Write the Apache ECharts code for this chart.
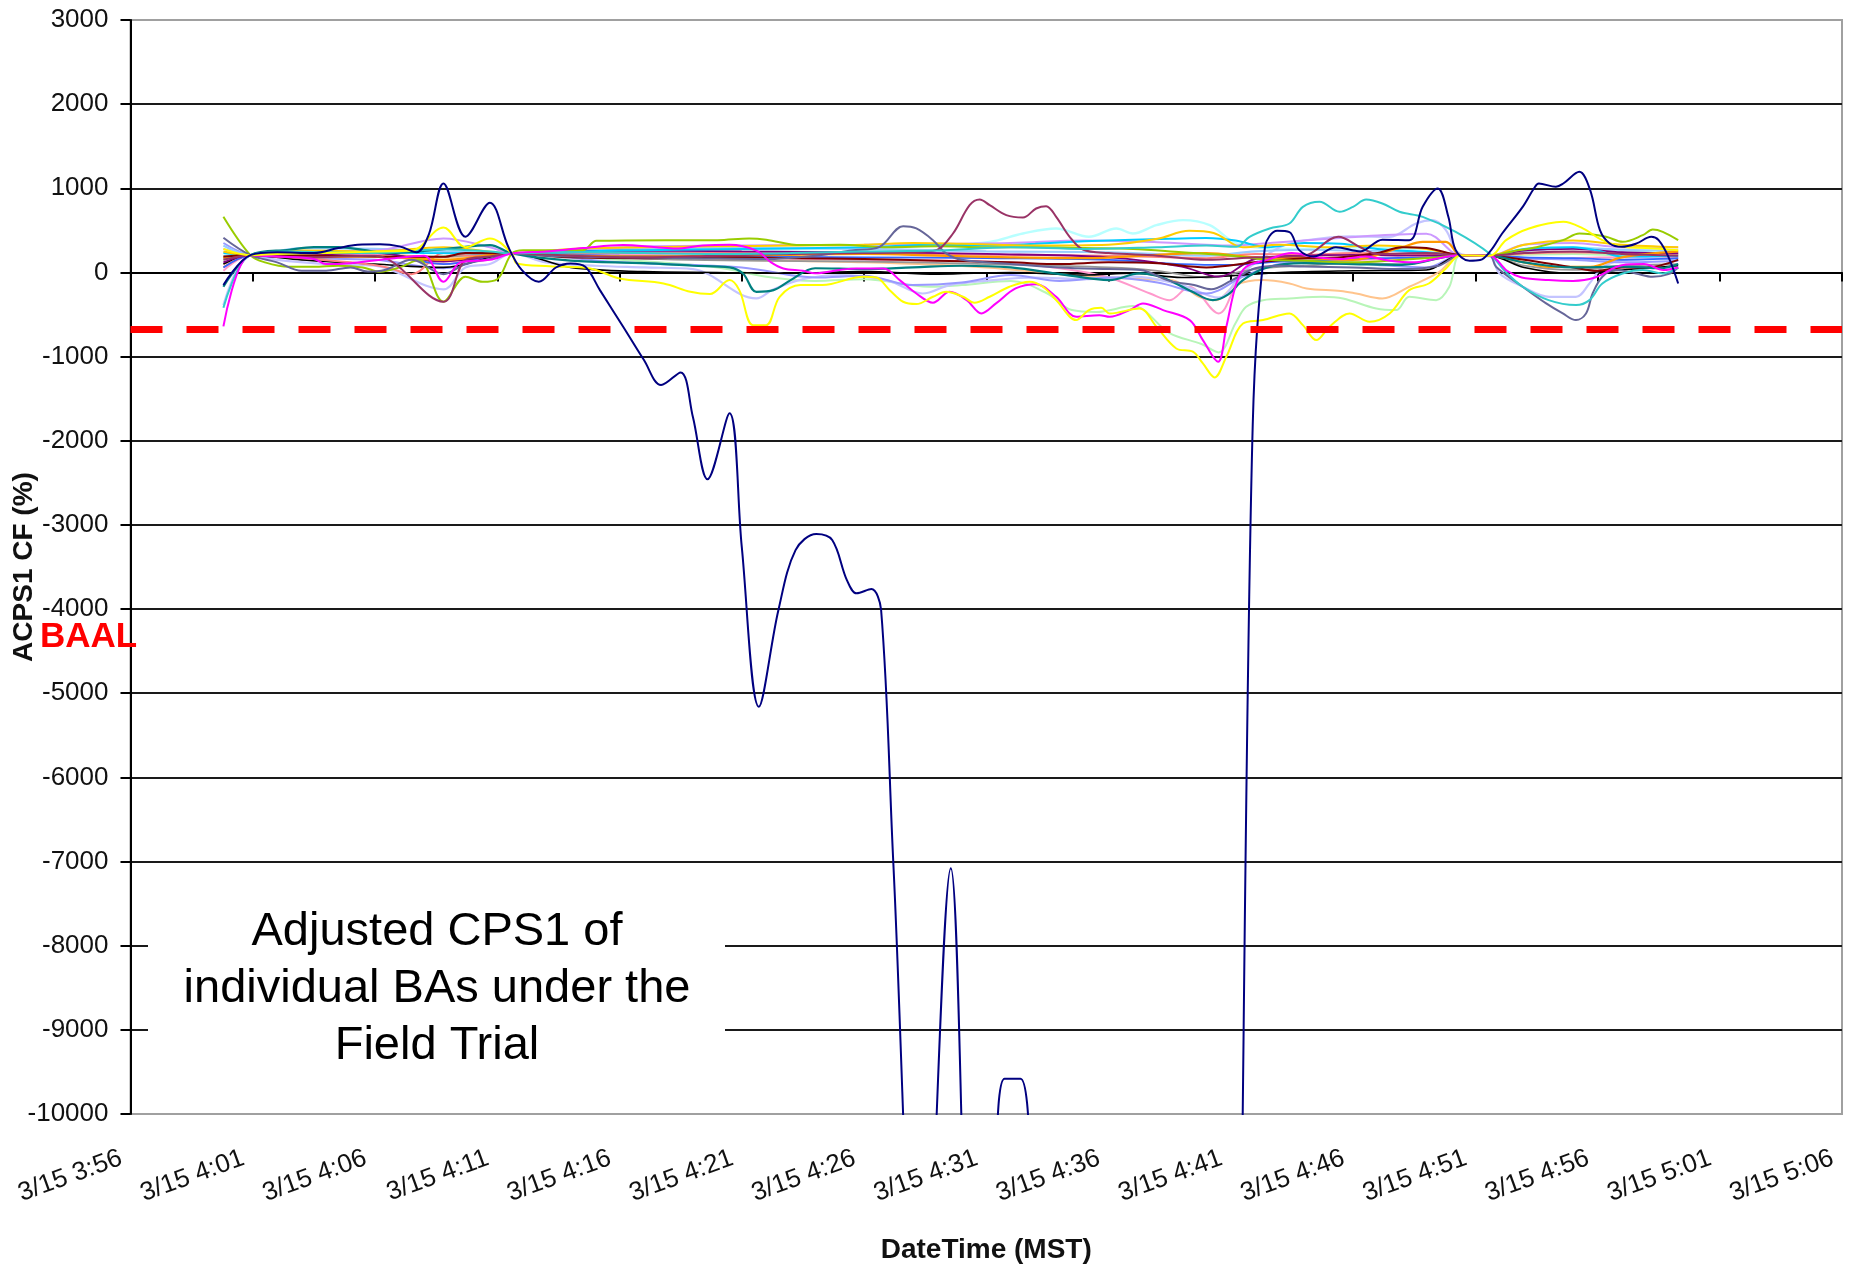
<!DOCTYPE html>
<html><head><meta charset="utf-8">
<script src="https://cdn.jsdelivr.net/npm/echarts@6/dist/echarts.min.js"></script>
<style>html,body{margin:0;padding:0;background:#fff;}#c{width:1860px;height:1271px;}</style>
</head><body><div id="c"></div>
<script>
// x values: minutes after 3/15 3:56 (MST); y values: ACPS1 CF (%)
const xTickLabels = ['3/15 3:56','3/15 4:01','3/15 4:06','3/15 4:11','3/15 4:16','3/15 4:21','3/15 4:26','3/15 4:31','3/15 4:36','3/15 4:41','3/15 4:46','3/15 4:51','3/15 4:56','3/15 5:01','3/15 5:06'];
const BAAL = -680;

const baNavy = [[3.8,-150],[4.9,206],[6.0,240],[7.5,230],[8.5,290],[9.3,330],[10.2,335],[11.0,310],[11.7,240],[12.2,450],[12.8,1057],[13.7,424],[14.7,828],[15.45,305],[16.0,30],[16.7,-111],[17.4,59],[18.0,107],[18.6,67],[19.2,-210],[20.15,-645],[21.0,-1041],[21.7,-1338],[22.5,-1188],[23.0,-1715],[23.6,-2458],[24.5,-1674],[25.0,-3259],[25.7,-5160],[26.5,-4011],[27.2,-3300],[28.05,-3108],[28.7,-3180],[29.3,-3655],[29.7,-3813],[30.3,-3762],[30.7,-4011],[31.2,-7021],[32.3,-13500],[33.55,-7081],[34.5,-13500],[35.3,-11000],[35.75,-9580],[36.4,-9580],[36.9,-11000],[37.6,-14000],[44.0,-15000],[44.9,-16000],[45.9,-1800],[46.4,305],[46.9,495],[47.4,480],[47.8,265],[48.4,190],[49.3,300],[50.3,250],[51.2,390],[52.3,384],[52.85,780],[53.47,998],[53.9,661],[54.2,265],[54.76,139],[55.2,147],[55.65,265],[56.1,463],[56.94,780],[57.4,998],[57.6,1057],[58.3,1018],[58.6,1057],[59.26,1196],[59.7,978],[60.1,503],[60.5,345],[61.0,305],[61.6,345],[62.2,424],[62.5,384],[62.9,186],[63.3,-131]];
const baMagenta = [[3.8,-640],[4.9,206],[6,190],[7.5,160],[8.0,100],[9.0,110],[10.5,160],[12.0,200],[12.8,-111],[13.5,120],[14.7,150],[15.6,226],[17,250],[18.5,290],[20.15,325],[21.5,300],[22.3,285],[23.4,320],[24.5,330],[25.6,260],[26.2,120],[26.7,48],[27.5,20],[28.0,-10],[29.0,30],[29.7,48],[30.8,48],[31.46,-91],[32.14,-250],[32.82,-360],[33.5,-230],[34.2,-329],[34.8,-487],[35.4,-368],[36.2,-190],[37.04,-139],[37.86,-289],[38.68,-527],[39.63,-507],[40.05,-527],[40.86,-447],[41.41,-368],[42.23,-447],[43.32,-566],[43.86,-804],[44.48,-1061],[44.82,-645],[45.23,-131],[45.63,67],[46.5,150],[47.5,230],[48.5,180],[49.5,160],[50.5,190],[51.5,140],[52.5,120],[53.5,170],[54.4,205],[55.6,200],[56.3,20],[56.9,-60],[58.0,-90],[59.0,-100],[59.9,-60],[61.0,87],[61.9,100],[62.7,30],[63.3,60]];
const baYellow = [[3.8,280],[4.9,206],[6,220],[8,230],[10,250],[11.5,260],[12.8,535],[13.7,300],[14.7,404],[15.6,226],[15.8,107],[17.15,75],[18.8,48],[20.0,-71],[21.8,-131],[22.9,-230],[23.7,-257],[24.5,-91],[24.9,-210],[25.46,-626],[26.0,-626],[26.55,-289],[27.4,-150],[28.3,-150],[29.96,-51],[30.5,-60],[31.05,-210],[31.6,-348],[32.14,-376],[32.82,-289],[33.36,-230],[34.05,-289],[34.52,-360],[35.14,-289],[35.95,-170],[36.77,-111],[37.32,-170],[37.86,-329],[38.68,-566],[39.2,-447],[39.7,-420],[40.05,-487],[41.27,-428],[41.96,-645],[42.77,-903],[43.45,-942],[43.86,-1081],[44.34,-1247],[44.82,-1002],[45.5,-606],[46.32,-566],[47.4,-487],[47.95,-626],[48.5,-804],[49.04,-645],[49.86,-487],[50.68,-586],[51.5,-487],[52.3,-210],[53.1,-131],[53.8,48],[54.4,205],[55.6,200],[56.26,384],[57.2,523],[58.6,602],[59.4,523],[60.2,384],[61.03,305],[62.0,290],[63.3,265]];
const baTurquoise = [[3.8,-420],[4.9,206],[6.5,250],[8,240],[10,230],[12.8,277],[14.7,250],[15.6,226],[18,240],[21,230],[24,220],[27,230],[30,250],[33,260],[36,300],[39,280],[42,300],[44,320],[45.23,305],[45.77,424],[46.59,523],[47.4,582],[47.95,780],[48.63,840],[49.45,721],[50.0,780],[50.54,867],[51.2,820],[51.9,721],[52.85,661],[54.2,483],[55.58,226],[56.2,20],[56.94,-170],[58.0,-329],[59.12,-388],[59.67,-329],[60.2,-131],[61.03,-12],[61.85,28],[62.67,-12],[63.3,60]];
const baPlum = [[3.8,150],[4.9,206],[7,180],[10,200],[12.8,-348],[13.7,150],[14.7,190],[15.6,226],[18,200],[21,180],[24,200],[27,220],[30,230],[32.0,240],[32.96,265],[33.64,463],[34.32,800],[34.73,867],[35.14,800],[35.82,681],[36.5,653],[37.04,760],[37.45,788],[37.86,661],[38.41,424],[38.95,273],[40,230],[42,200],[44,150],[46,180],[48,200],[49.4,424],[50.3,300],[51,220],[53,230],[54.4,205],[55.6,200],[57,230],[59,250],[61,220],[63.3,200]];
const baSlate = [[3.8,412],[4.9,206],[6,120],[7,20],[8,20],[9.0,60],[9.7,10],[10.4,30],[11.5,150],[12.8,-20],[13.7,100],[14.7,160],[15.6,226],[17,200],[20,180],[23,170],[26,160],[28,200],[29.5,260],[30.64,305],[31.6,550],[32.14,523],[32.82,384],[33.36,226],[34,150],[36,100],[38,60],[40,40],[41.3,30],[42.5,-100],[43.5,-150],[44.2,-200],[45,-100],[46,50],[47,80],[48,70],[50,60],[52,40],[53.5,80],[54.4,205],[55.6,200],[55.85,67],[56.94,-170],[57.9,-368],[58.58,-487],[59.12,-566],[59.53,-487],[59.8,-250],[60.2,-51],[60.75,28],[61.57,-12],[62.25,-51],[62.9,-20],[63.3,60]];
const baLightCyan = [[3.8,200],[4.9,206],[8,230],[12,240],[15.6,226],[20,250],[25,270],[30,290],[33,320],[35.14,364],[36.5,463],[37.86,523],[39.2,424],[40.32,523],[41.0,463],[41.96,562],[43.05,622],[44.14,562],[45.1,364],[46,300],[48,280],[50,300],[52,280],[54.4,205],[55.6,200],[57,250],[59,300],[61,260],[63.3,240]];
const baLime = [[3.8,661],[4.9,206],[5.5,120],[6.5,67],[7.5,67],[8.5,80],[9.5,60],[10.2,8],[11.0,60],[11.8,150],[12.8,-348],[13.7,-50],[14.4,-111],[15.0,-80],[15.6,226],[16.06,265],[18.5,265],[19.06,376],[21.9,384],[22.9,384],[24,384],[25.3,404],[26.0,390],[27.4,325],[29,330],[31,300],[33,310],[35,300],[37,300],[39,290],[41,280],[43,240],[45,200],[46.5,150],[48,140],[50,120],[52,150],[53.5,180],[54.4,205],[55.6,200],[56.5,250],[57.5,300],[58.58,384],[59.26,463],[60.35,424],[61.03,364],[61.85,443],[62.26,511],[62.67,483],[63.3,384]];
const baLavender = [[3.8,-388],[4.9,206],[6,150],[8,100],[10,80],[12.8,-200],[13.7,60],[14.7,100],[15.6,226],[17,120],[19,80],[21,60],[23,40],[25.6,-309],[26.3,-200],[27.5,-80],[29,-30],[31,-100],[32.4,-250],[33.5,-150],[35,-100],[37,-60],[39,-80],[41,-50],[43,-150],[44.5,-300],[45.5,0],[47,300],[48,380],[50,430],[51.5,424],[52.58,582],[53.26,622],[53.8,503],[54.2,265],[54.6,205],[55.6,190],[55.99,-12],[56.94,-170],[58.03,-289],[59.12,-289],[59.67,-131],[60.2,60],[61,150],[62,180],[63.3,150]];
const baLightGreen = [[3.8,150],[4.9,206],[8,200],[12,190],[15.6,226],[20,150],[24,60],[26,-50],[28,-100],[30,-80],[32.68,-170],[34,-150],[36,-100],[37.5,-250],[38.5,-447],[39.5,-470],[41.0,-400],[42.5,-720],[43.8,-850],[44.5,-950],[45.2,-600],[45.63,-408],[46.32,-329],[47.4,-309],[48.77,-289],[49.59,-309],[50.95,-428],[51.77,-447],[52.3,-289],[53.4,-329],[53.94,-170],[54.4,205],[55.6,200],[57,210],[59,220],[61,200],[63.3,190]];
const baPeach = [[3.8,100],[4.9,206],[7,230],[10,220],[12.8,180],[15.6,226],[20,200],[25,150],[30,120],[35,60],[38,-20],[40,-60],[41.5,-80],[42.6,-91],[43.7,-289],[44.4,-330],[45.2,-150],[46.3,-91],[47.4,-130],[48.1,-190],[49.5,-220],[50.13,-250],[51.2,-309],[52.3,-170],[53.5,0],[54.4,205],[55.6,200],[57,220],[59,240],[61,230],[63.3,220]];
const baPink = [[3.8,20],[4.9,206],[7,200],[10,210],[12.8,100],[15.6,226],[20,220],[25,180],[30,150],[35,130],[38,50],[40,-60],[41.7,-250],[42.5,-329],[43.3,-170],[44.5,-487],[45.3,-100],[46,120],[48,160],[50,150],[52,170],[54.4,205],[55.6,200],[57,160],[59,170],[61,180],[63.3,170]];
const baDarkTeal = [[3.8,-170],[4.9,206],[6.5,270],[7.5,300],[8.5,300],[9.5,270],[10.5,230],[12.8,277],[14.7,325],[15.6,226],[18,140],[21,110],[23,80],[24.5,60],[25.05,-12],[25.6,-230],[26.3,-210],[27.0,-91],[28,50],[30,40],[32,60],[34,80],[36,60],[38,-20],[39.5,-80],[40.05,-91],[41.27,-12],[42.2,-60],[43.3,-210],[44.27,-329],[44.9,-260],[45.5,-91],[46.5,60],[48,110],[50,100],[52,90],[54.4,205],[55.6,200],[57,120],[59,60],[61,70],[62.6,50],[63.3,100]];
const baOrange = [[3.8,180],[4.9,206],[7,180],[10,190],[12.8,150],[15.6,226],[18,200],[21,190],[24,200],[27,210],[30,220],[33,200],[36,180],[39,170],[42,210],[44,230],[46,180],[48,170],[50,150],[52,300],[52.85,364],[53.8,364],[54.4,205],[55.6,200],[57,120],[58,67],[59.7,67],[61,180],[63.3,250]];
const baGold = [[3.8,250],[4.9,206],[7,260],[10,250],[12.8,300],[15.6,226],[18,280],[21,300],[24,310],[27,320],[30,330],[32,350],[34,340],[37,320],[40,330],[42,400],[43.3,495],[44.3,470],[45.5,300],[47,330],[49,300],[51,320],[53,280],[54.4,205],[55.6,200],[57,330],[59,380],[61,330],[63.3,300]];
const baSkyBlue = [[3.8,230],[4.9,206],[8,240],[12,230],[15.6,226],[20,260],[25,280],[30,300],[33,330],[35,320],[37,340],[39,370],[41,390],[42.5,400],[44,410],[45.2,380],[46.5,300],[48,350],[49.5,340],[51,280],[53,240],[54.4,205],[55.6,200],[57,280],[59,300],[60,260],[61,190],[63.3,200]];
const baDarkRed = [[3.8,190],[4.9,206],[7,200],[10,190],[12.8,186],[13.7,230],[15.6,226],[18,180],[21,170],[24,180],[27,170],[30,160],[33,140],[36,120],[38,100],[40,120],[42,110],[44,60],[46,120],[48,170],[49.5,180],[51,230],[52,300],[53,290],[54.4,205],[55.6,200],[57,150],[59,60],[60,20],[61,60],[62,60],[63.3,150]];
const baLightBlue = [[3.8,320],[4.9,206],[7,290],[10,280],[12.8,250],[15.6,226],[20,280],[25,290],[30,280],[35,250],[40,240],[44,200],[46,250],[48,270],[50,260],[52,250],[54.4,205],[55.6,200],[57,260],[59,290],[61,270],[63.3,260]];
const baSalmon = [[3.8,60],[4.9,206],[7,170],[9,120],[10.5,60],[11.5,-20],[12.8,230],[14,200],[15.6,226],[20,230],[25,240],[30,230],[35,210],[40,200],[44,170],[46,220],[48,210],[50,230],[52,220],[54.4,205],[55.6,200],[57,230],[59,240],[61,230],[63.3,220]];
const baPeriwinkle = [[3.8,350],[4.9,206],[7,170],[10,150],[12.8,50],[15.6,226],[20,120],[25,60],[28,-60],[30,-40],[32,-150],[34,-120],[36,-30],[38,-100],[40,-60],[42,-120],[44,-250],[45.5,-50],[47,100],[49,130],[51,90],[53,60],[54.4,205],[55.6,200],[57,170],[59,150],[61,120],[63.3,140]];
const baBlack = [[3.8,100],[4.9,206],[7,150],[10,100],[12.8,60],[15.6,226],[18,60],[21,10],[24,0],[27,-10],[30,10],[33,-20],[36,0],[39,-30],[41,-10],[43,-60],[45,-40],[47,0],[50,20],[53,30],[54.4,205],[55.6,200],[57,60],[59,-10],[61,30],[63.3,80]];
const baPurple = [[3.8,120],[4.9,206],[7,210],[10,230],[12.8,130],[15.6,226],[20,260],[25,250],[30,240],[35,220],[40,180],[43,70],[44.5,-50],[46,160],[48,200],[50,210],[52,200],[54.4,205],[55.6,200],[57,260],[59,280],[61,240],[63.3,230]];
const baLightPurple = [[3.8,280],[4.9,206],[7,250],[10,260],[12.8,404],[14.7,300],[15.6,226],[20,300],[25,320],[30,330],[33,340],[36,350],[39,380],[42,360],[45,320],[47,360],[49,400],[51,440],[53,460],[54.4,205],[55.6,200],[57,330],[59,350],[61,300],[63.3,300]];
const baBlue = [[3.8,60],[4.9,206],[7,230],[10,240],[12.8,100],[15.6,226],[20,200],[25,190],[30,180],[35,170],[40,150],[43,100],[45,90],[47,130],[49,150],[51,170],[53,180],[54.4,205],[55.6,200],[57,180],[59,170],[61,150],[63.3,170]];
const baGrey = [[3.8,170],[4.9,206],[8,200],[12,180],[15.6,226],[20,170],[25,140],[30,130],[35,100],[40,60],[42,20],[44,-60],[46,40],[48,80],[50,110],[52,100],[54.4,205],[55.6,200],[57,80],[59,30],[61,80],[63.3,100]];

// drawing order (first drawn at bottom), with colours
const seriesDefs = [
  ['Light Cyan', baLightCyan, '#b8ffff', 2.4],
  ['Light Green', baLightGreen, '#b8f5b8', 2],
  ['Peach', baPeach, '#ffc48c', 2],
  ['Pink', baPink, '#ff99cc', 2],
  ['Lavender', baLavender, '#c4c4ff', 2.2],
  ['Periwinkle', baPeriwinkle, '#9999ff', 2],
  ['Light Blue', baLightBlue, '#99ccff', 2.2],
  ['Grey', baGrey, '#969696', 1.8],
  ['Black', baBlack, '#000000', 1.6],
  ['Salmon', baSalmon, '#ff8080', 2],
  ['Blue', baBlue, '#3366ff', 1.8],
  ['Purple', baPurple, '#800080', 1.8],
  ['Light Purple', baLightPurple, '#cc99ff', 2],
  ['Sky Blue', baSkyBlue, '#00ccff', 2],
  ['Gold', baGold, '#ffcc00', 2],
  ['Orange', baOrange, '#ff9900', 2.2],
  ['Dark Red', baDarkRed, '#800000', 2],
  ['Dark Teal', baDarkTeal, '#008080', 2.2],
  ['Lime', baLime, '#99cc00', 2],
  ['Slate', baSlate, '#666699', 2],
  ['Plum', baPlum, '#993366', 2],
  ['Turquoise', baTurquoise, '#33cccc', 2],
  ['Magenta', baMagenta, '#ff00ff', 2],
  ['Yellow', baYellow, '#ffff00', 2],
  ['Navy', baNavy, '#000080', 2]
];

const FONT = '"Liberation Sans", Arial, Helvetica, sans-serif';
const chart = echarts.init(document.getElementById('c'), null, {renderer: 'canvas'});

const series = seriesDefs.map(([name, data, color, width]) => ({
  name, type: 'line', data, smooth: 0.35, symbol: 'none', showSymbol: false,
  xAxisIndex: 0, yAxisIndex: 0, clip: true,
  lineStyle: {color, width}, itemStyle: {color},
  emphasis: {disabled: true}
}));
series[series.length - 1].markLine = {
  silent: true, symbol: ['none', 'none'], label: {show: false},
  lineStyle: {color: '#ff0000', width: 7, type: [32, 24]},
  data: [{yAxis: BAAL}]
};

chart.setOption({
  animation: false,
  backgroundColor: '#ffffff',
  grid: {left: 130.5, right: 18, top: 20, bottom: 157, containLabel: false, outerBoundsMode: 'none',
    show: true, borderColor: '#a0a0a0', borderWidth: 2, backgroundColor: 'transparent'},
  xAxis: [{
    type: 'value', min: 0, max: 70, interval: 5,
    axisLine: {show: true, onZero: true, lineStyle: {color: '#000', width: 2}},
    axisTick: {show: true, length: 9, lineStyle: {color: '#000', width: 2}},
    axisLabel: {show: false}, splitLine: {show: false}
  }, {
    type: 'value', min: 0, max: 70, interval: 5, position: 'bottom',
    axisLine: {show: false, onZero: false}, axisTick: {show: false}, splitLine: {show: false},
    axisLabel: {show: true, rotate: 20, margin: 40, padding: [0, 10, 0, 0], color: '#111', fontFamily: FONT, fontSize: 26,
      hideOverlap: false, formatter: v => xTickLabels[Math.round(v / 5)] || ''},
    name: 'DateTime (MST)', nameLocation: 'middle', nameGap: 122, nameMoveOverlap: false,
    nameTextStyle: {fontFamily: FONT, fontSize: 28, fontWeight: 'bold', color: '#111'}
  }],
  yAxis: {
    type: 'value', min: -10000, max: 3000, interval: 1000,
    axisLine: {show: true, onZero: false, lineStyle: {color: '#000', width: 2}},
    axisTick: {show: true, length: 10, lineStyle: {color: '#000', width: 2}},
    axisLabel: {margin: 22, color: '#111', fontFamily: FONT, fontSize: 26, formatter: v => String(v)},
    splitLine: {show: true, showMinLine: false, showMaxLine: false, lineStyle: {color: '#1a1a1a', width: 2}},
    name: 'ACPS1 CF (%)', nameLocation: 'middle', nameGap: 92, nameMoveOverlap: false,
    nameTextStyle: {fontFamily: FONT, fontSize: 28, fontWeight: 'bold', color: '#111'}
  },
  series,
  graphic: [
    {type: 'rect', z: 100, shape: {x: 148, y: 880, width: 577, height: 215}, style: {fill: '#ffffff'}},
    {type: 'text', z: 101, x: 437, y: 989, style: {text: 'Adjusted CPS1 of\nindividual BAs under the\nField Trial', font: '47px ' + FONT, fill: '#000', align: 'center', verticalAlign: 'middle', textAlign: 'center', textVerticalAlign: 'middle', lineHeight: 57}},
    {type: 'text', z: 101, x: 40, y: 637, style: {text: 'BAAL', font: 'bold 35px ' + FONT, fill: '#ff0000', align: 'left', verticalAlign: 'middle', textAlign: 'left', textVerticalAlign: 'middle'}}
  ]
});
</script>
</body></html>
